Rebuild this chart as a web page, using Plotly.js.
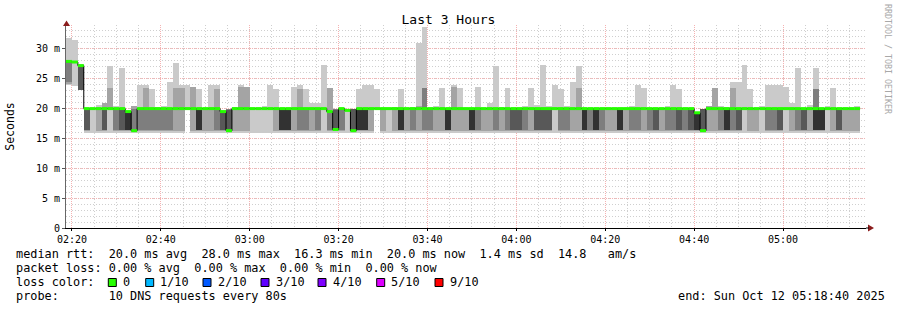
<!DOCTYPE html>
<html><head><meta charset="utf-8">
<script src="https://cdn.plot.ly/plotly-3.0.1.min.js"></script>
<style>html,body{margin:0;padding:0;background:#fff}#chart{width:897px;height:310px}</style>
</head><body><div id="chart"></div>
<script>
// ---- data (ms), one value per 80 s probe round, 10 sorted pings each ----
const startTime = '2025-10-12 02:18:40';
const endTime = '2025-10-12 05:18:40';
const stepSeconds = 80;

const ping1 = [
23.9,23.8,23.1,15.9,15.9,15.9,15.9,15.9,15.9,15.9,
15.9,15.9,15.9,15.9,15.9,15.9,15.9,15.9,15.9,15.9,
20.0,15.9,15.9,15.9,15.9,15.9,15.9,15.9,15.9,15.9,
15.9,15.9,15.9,15.9,15.9,15.9,15.9,15.9,15.9,15.9,
15.9,15.9,15.9,15.9,15.9,15.9,15.9,15.9,15.9,15.9,
15.9,15.9,20.0,15.9,15.9,15.9,15.9,15.9,15.9,15.9,
15.9,15.9,15.9,15.9,15.9,15.9,15.9,15.9,15.9,15.9,
15.9,15.9,15.9,15.9,15.9,15.9,15.9,15.9,15.9,15.9,
15.9,15.9,15.9,15.9,15.9,15.9,15.9,15.9,15.9,15.9,
15.9,15.9,15.9,15.9,15.9,15.9,15.9,15.9,15.9,15.9,
15.9,15.9,15.9,15.9,15.9,15.9,15.9,15.9,15.9,15.9,
15.9,15.9,15.9,15.9,15.9,15.9,15.9,15.9,15.9,15.9,
15.9,15.9,15.9,15.9,15.9,15.9,15.9,15.9,15.9,15.9,
15.9,15.9,15.9,15.9];
const ping2 = [
24.2,27.7,23.1,16.2,20.0,16.2,16.2,20.0,16.2,16.2,
16.2,16.2,16.2,16.2,16.2,16.2,16.2,16.2,16.2,16.2,
20.0,16.2,16.2,16.2,16.2,16.2,16.2,16.2,16.2,16.2,
16.2,20.0,20.0,20.0,20.0,16.2,16.2,16.2,16.2,16.2,
16.2,16.2,16.2,20.0,16.2,16.2,16.2,19.7,16.2,16.2,
16.2,16.2,20.0,16.2,20.0,16.2,16.2,16.2,16.2,16.2,
16.2,16.2,16.2,16.2,16.2,16.2,16.2,16.2,16.2,16.2,
16.2,16.2,16.2,16.2,16.2,16.2,16.2,16.2,16.2,16.2,
16.2,16.2,20.0,16.2,16.2,16.2,16.2,16.2,16.2,16.2,
16.2,16.2,16.2,16.2,16.2,16.2,16.2,16.2,16.2,16.2,
16.2,16.2,16.2,16.2,16.2,16.2,16.2,16.2,16.2,16.2,
16.2,16.2,16.2,16.2,20.0,16.2,16.2,20.0,16.2,16.2,
16.2,20.0,16.2,16.2,16.2,16.2,16.2,16.2,20.0,16.2,
16.2,16.2,16.2,16.2];
const ping3 = [
24.4,27.7,23.1,16.4,20.0,20.0,16.4,20.0,16.4,16.4,
16.4,16.3,16.4,16.4,16.4,16.4,16.4,16.4,20.0,20.0,
20.0,20.0,16.4,20.0,20.0,16.4,16.4,16.3,20.0,20.0,
20.0,20.0,20.0,20.0,20.0,20.0,16.4,16.4,20.0,16.4,
16.4,20.0,16.4,20.0,16.4,16.4,16.4,19.7,16.3,16.4,
16.4,20.0,20.0,20.0,20.0,20.0,16.4,20.0,16.4,20.0,
16.4,16.4,20.0,20.0,16.4,20.0,20.0,20.0,16.4,16.4,
20.0,20.0,16.4,20.0,16.4,16.4,16.4,16.4,20.0,16.4,
16.4,16.4,20.0,16.4,16.4,20.0,20.0,16.4,16.4,16.4,
16.4,20.0,20.0,16.4,20.0,16.4,16.4,20.0,16.4,16.4,
20.0,16.4,16.4,16.4,16.4,16.4,16.4,16.3,20.0,20.0,
16.4,16.4,16.4,16.4,20.0,20.0,20.0,20.0,16.4,16.4,
16.4,20.0,20.0,16.4,16.4,20.0,16.4,16.4,20.0,20.0,
16.4,20.0,20.0,20.0];
const ping4 = [
27.6,27.7,23.1,16.4,20.0,20.0,16.4,20.0,20.0,16.4,
16.4,16.3,20.0,20.0,20.0,20.0,20.0,20.0,20.0,20.0,
20.0,20.0,16.4,20.0,20.0,20.0,16.4,16.3,20.0,20.0,
20.0,20.0,20.0,20.0,20.0,20.0,16.4,16.4,20.0,20.0,
20.0,20.0,20.0,20.0,19.5,16.4,20.0,19.7,16.3,16.4,
16.4,20.0,20.0,20.0,20.0,20.0,16.4,20.0,20.0,20.0,
20.0,20.0,20.0,20.0,16.4,20.0,20.0,20.0,16.4,20.0,
20.0,20.0,20.0,20.0,20.0,16.4,16.4,20.0,20.0,16.4,
16.4,16.4,20.0,20.0,20.0,20.0,20.0,16.4,20.0,16.4,
20.0,20.0,20.0,16.4,20.0,20.0,20.0,20.0,20.0,16.4,
20.0,20.0,20.0,16.4,20.0,16.4,16.4,16.3,20.0,20.0,
20.0,16.4,20.0,16.4,20.0,20.0,20.0,20.0,20.0,20.0,
16.4,20.0,20.0,20.0,16.4,20.0,16.4,16.4,20.0,20.0,
16.4,20.0,20.0,20.0];
const ping5 = [
27.8,27.8,27.0,20.0,20.0,20.0,20.0,20.0,20.0,20.0,
16.4,16.3,20.0,20.0,20.0,20.0,20.0,20.0,20.0,20.0,
20.0,20.0,16.4,20.0,20.0,20.0,19.5,16.3,20.0,20.0,
20.0,20.0,20.0,20.0,20.0,20.0,16.4,16.4,20.0,20.0,
20.0,20.0,20.0,20.0,19.5,16.5,20.0,19.7,16.3,16.4,
16.4,20.0,20.0,20.0,20.0,20.0,16.4,20.0,20.0,20.0,
20.0,20.0,20.0,20.0,16.4,20.0,20.0,20.0,16.4,20.0,
20.0,20.0,20.0,20.0,20.0,20.0,20.0,20.0,20.0,20.0,
20.0,20.0,20.0,20.0,20.0,20.0,20.0,16.4,20.0,16.4,
20.0,20.0,20.0,16.4,20.0,20.0,20.0,20.0,20.0,20.0,
20.0,20.0,20.0,20.0,20.0,20.0,16.4,16.3,20.0,20.0,
20.0,16.4,20.0,20.0,20.0,20.0,20.0,20.0,20.0,20.0,
20.0,20.0,20.0,20.0,20.0,20.0,16.4,16.4,20.0,20.0,
20.0,20.0,20.0,20.0];
const median = [
27.9,27.8,27.2,20.0,20.0,20.0,20.0,20.0,20.0,20.0,
19.5,16.3,20.0,20.0,20.0,20.0,20.0,20.0,20.0,20.0,
20.0,20.0,20.0,20.0,20.0,20.0,19.5,16.3,20.0,20.0,
20.0,20.0,20.0,20.0,20.0,20.0,20.0,20.0,20.0,20.0,
20.0,20.0,20.0,20.0,19.5,16.5,20.0,19.7,16.3,20.0,
20.0,20.0,20.0,20.0,20.0,20.0,20.0,20.0,20.0,20.0,
20.0,20.0,20.0,20.0,20.0,20.0,20.0,20.0,20.0,20.0,
20.0,20.0,20.0,20.0,20.0,20.0,20.0,20.0,20.0,20.0,
20.0,20.0,20.0,20.0,20.0,20.0,20.0,20.0,20.0,20.0,
20.0,20.0,20.0,20.0,20.0,20.0,20.0,20.0,20.0,20.0,
20.0,20.0,20.0,20.0,20.0,20.0,19.3,16.3,20.0,20.0,
20.0,20.0,20.0,20.0,20.0,20.0,20.0,20.0,20.0,20.0,
20.0,20.0,20.0,20.0,20.0,20.0,20.0,20.0,20.0,20.0,
20.0,20.0,20.0,20.0];
const ping7 = [
27.9,27.8,27.2,20.0,20.0,20.0,20.0,20.0,20.0,20.0,
19.5,16.3,20.0,20.0,20.0,20.0,20.0,20.0,20.0,20.0,
20.0,20.0,20.0,20.0,20.0,20.0,19.5,19.8,20.0,20.0,
20.0,20.0,20.0,20.0,20.0,20.0,20.0,20.0,20.0,20.0,
20.0,20.0,20.0,20.0,19.5,19.8,20.0,19.7,20.0,20.0,
20.0,20.0,20.0,20.0,20.0,20.0,20.0,20.0,20.0,20.0,
20.0,20.0,20.0,20.0,20.0,20.0,20.0,20.0,20.0,20.0,
20.0,20.0,20.0,20.0,20.0,20.0,20.0,20.0,20.0,20.0,
20.0,20.0,20.0,20.0,20.0,20.0,20.0,20.0,20.0,20.0,
20.0,20.0,20.0,20.0,20.0,20.0,20.0,20.0,20.0,20.0,
20.0,20.0,20.0,20.0,20.0,20.0,19.3,20.0,20.0,20.0,
20.0,20.0,20.0,20.0,20.0,20.0,20.0,20.0,20.0,20.0,
20.0,20.0,20.0,20.0,20.0,20.0,20.0,20.0,20.0,20.0,
20.0,20.0,20.0,20.0];
const ping8 = [
27.9,27.8,27.2,20.0,20.0,20.0,20.0,20.0,20.0,20.0,
19.5,20.0,20.0,20.0,20.0,20.0,20.0,20.0,20.0,20.0,
20.0,20.0,20.0,20.0,20.0,20.0,19.5,20.0,20.0,20.0,
20.0,20.0,20.0,20.0,20.0,20.0,20.0,20.0,20.0,20.0,
20.0,20.0,20.0,20.0,19.5,20.0,20.0,19.7,20.0,20.0,
20.0,20.0,20.0,20.0,20.0,20.0,20.0,20.0,20.0,20.0,
23.4,20.0,20.0,20.0,20.0,20.0,20.0,20.0,20.0,20.0,
20.0,20.0,20.0,20.0,20.0,20.0,20.0,20.0,20.0,20.0,
20.0,20.0,20.0,20.0,20.0,20.0,20.0,20.0,20.0,20.0,
20.0,20.0,20.0,20.0,20.0,20.0,20.0,20.0,20.0,20.0,
20.0,20.0,20.0,20.0,20.0,20.0,19.3,20.0,20.0,20.0,
20.0,20.0,20.0,20.0,20.0,20.0,20.0,20.0,20.0,20.0,
20.0,20.0,20.0,20.0,20.0,20.0,23.3,20.0,20.0,20.0,
20.0,20.0,20.0,20.0];
const ping9 = [
27.9,27.8,27.2,20.0,20.0,20.0,21.0,23.4,20.0,20.0,
19.5,20.4,20.0,23.4,20.0,20.0,20.0,20.0,23.4,23.4,
20.0,23.7,20.0,20.0,20.0,23.3,19.5,20.0,20.0,23.7,
23.7,20.0,20.0,20.0,20.0,20.0,20.0,20.0,20.0,23.3,
20.0,20.0,20.0,20.0,23.4,20.0,20.0,19.7,20.0,20.0,
20.0,20.0,20.0,20.0,20.0,20.0,20.0,20.0,20.0,20.5,
23.4,20.0,20.0,20.0,20.0,23.7,20.0,20.0,20.0,20.0,
20.0,20.0,20.0,20.0,20.0,20.0,20.0,20.0,20.0,20.0,
20.0,20.0,20.0,20.0,20.0,20.0,23.4,20.0,20.0,20.0,
20.0,20.0,20.0,20.0,20.0,20.0,20.0,20.0,20.0,20.0,
20.0,20.0,20.0,20.0,20.0,20.0,19.3,20.0,20.4,23.4,
20.0,20.0,23.4,20.0,20.0,20.0,20.0,20.0,20.0,20.0,
20.0,20.0,20.0,20.0,20.0,20.0,23.3,20.0,20.0,20.0,
20.0,20.0,20.0,20.0];
const ping10 = [
31.9,31.5,27.4,20.0,20.0,20.6,21.0,27.2,20.4,26.8,
19.5,20.4,24.0,24.0,23.3,20.2,20.4,24.5,27.7,24.0,
24.0,23.7,23.3,20.0,24.0,24.0,19.5,20.0,20.2,24.0,
23.7,20.0,20.0,20.4,24.0,23.3,20.0,20.0,23.7,24.0,
23.3,20.9,20.9,27.3,23.4,20.0,20.0,19.7,20.0,23.3,
24.0,24.0,23.3,20.0,20.0,20.2,23.3,20.0,20.2,31.0,
33.6,20.0,20.4,23.4,20.0,24.0,23.4,20.0,20.0,23.6,
20.0,20.9,27.2,20.2,23.4,20.0,20.0,20.4,23.4,20.6,
27.3,20.4,24.0,23.3,20.4,24.5,27.2,20.0,20.0,20.0,
20.0,20.0,20.0,20.0,20.0,20.4,24.0,23.4,20.0,20.0,
20.0,20.4,24.0,23.3,20.0,20.0,19.3,20.0,20.4,23.4,
20.4,20.2,24.5,24.5,27.3,23.3,20.0,20.4,24.0,24.0,
24.0,23.7,21.0,26.8,20.0,20.6,26.8,20.0,20.4,23.4,
20.0,20.0,20.0,20.4];

const bandColors = ['#cacaca', '#a4a4a4', '#7e7e7e', '#585858', '#323232'];
const lossLabels = ['0', '1/10', '2/10', '3/10', '4/10', '5/10', '9/10'];
const lossColors = ['#26ff00', '#00b8ff', '#0059ff', '#5e00ff', '#7e00ff', '#dd00ff', '#ff0000'];
const yTickVals = [0, 5, 10, 15, 20, 25, 30];
const yTickText = ['0', '5 m', '10 m', '15 m', '20 m', '25 m', '30 m'];
const statLines = [
  'median rtt:  20.0 ms avg  28.0 ms max  16.3 ms min  20.0 ms now  1.4 ms sd  14.8   am/s',
  'packet loss: 0.00 % avg  0.00 % max  0.00 % min  0.00 % now',
  'loss color:',
  'probe:       10 DNS requests every 80s'
];
const endText = 'end: Sun Oct 12 05:18:40 2025';
const titleText = 'Last 3 Hours';
const yTitle = 'Seconds';
const watermark = 'RRDTOOL / TOBI OETIKER';

// ---- build traces ----
const t0 = Date.UTC(2025, 9, 12, 2, 18, 40);
const stepMs = stepSeconds * 1000;
const fmt = ms => new Date(ms).toISOString().slice(0, 19).replace('T', ' ');
const times = median.map((_, i) => fmt(t0 + i * stepMs));
const timesEnd = median.map((_, i) => fmt(t0 + (i + 1) * stepMs));
const pings = [ping1, ping2, ping3, ping4, ping5, median, ping7, ping8, ping9, ping10];

const traces = [];
for (let i = 0; i < 5; i++) {
  const lo = pings[i], hi = pings[9 - i];
  traces.push({
    type: 'bar', x: times, base: lo, y: hi.map((h, k) => h - lo[k]),
    width: stepMs, offset: 0,
    marker: {color: bandColors[i], line: {width: 0}},
    hoverinfo: 'skip', showlegend: false
  });
}
traces.push({
  type: 'scatter', mode: 'lines', x: times, y: median,
  line: {shape: 'hv', color: '#000000', width: 1},
  hoverinfo: 'skip', showlegend: false
});
const gx = [], gy = [];
median.forEach((m, k) => { gx.push(times[k], timesEnd[k], null); gy.push(m, m, null); });
traces.push({
  type: 'scatter', mode: 'lines', x: gx, y: gy, connectgaps: false,
  line: {color: lossColors[0], width: 3},
  hoverinfo: 'skip', showlegend: false
});

// ---- layout helpers (pixel -> paper) ----
const PL = 66, PR = 866, PT = 25, PB = 228;
const px = x => (x - PL) / (PR - PL);
const py = y => (PB - y) / (PB - PT);
const nb = s => s.replace(/ /g, '\u00a0');
const mono = 'DejaVu Sans Mono, monospace';
const legendFont = {family: mono, size: 11.85, color: '#000'};

const annotations = [];
const lineY = [254.3, 268.3, 282.3, 296.2];
statLines.forEach((s, i) => annotations.push({
  xref: 'paper', yref: 'paper', x: px(14), y: py(lineY[i]), xanchor: 'left', yanchor: 'middle',
  text: nb(s), showarrow: false, font: legendFont
}));
annotations.push({
  xref: 'paper', yref: 'paper', x: px(676), y: py(lineY[3]), xanchor: 'left', yanchor: 'middle',
  text: nb(endText), showarrow: false, font: legendFont
});
const boxX = [108.3, 145.7, 203, 261, 318, 376.7, 435];
const labX = [123, 160, 218, 276, 333, 390.7, 450];
const shapes = [];
lossLabels.forEach((l, i) => {
  annotations.push({
    xref: 'paper', yref: 'paper', x: px(labX[i] - 2), y: py(lineY[2]), xanchor: 'left', yanchor: 'middle',
    text: nb(l), showarrow: false, font: legendFont
  });
  shapes.push({
    type: 'rect', xref: 'paper', yref: 'paper',
    x0: px(boxX[i]), x1: px(boxX[i] + 8), y0: py(286.5), y1: py(278.5),
    fillcolor: lossColors[i], line: {color: '#000', width: 1}
  });
});
annotations.push({
  xref: 'paper', yref: 'paper', x: px(888), y: py(59), xanchor: 'center', yanchor: 'middle',
  text: nb(watermark), textangle: 90, showarrow: false,
  font: {family: mono, size: 8.3, color: '#a8a8a8'}
});
// axis arrows
const tri = pts => 'M' + pts.map(p => px(p[0]) + ',' + py(p[1])).join(' L') + ' Z';
shapes.push({type: 'path', xref: 'paper', yref: 'paper', path: tri([[66.5, 20.5], [63, 26], [70, 26]]),
  fillcolor: '#8b1c1c', line: {width: 0}});
shapes.push({type: 'path', xref: 'paper', yref: 'paper', path: tri([[874, 228], [868, 224.5], [868, 231.5]]),
  fillcolor: '#8b1c1c', line: {width: 0}});
shapes.push({type: 'line', xref: 'paper', yref: 'paper', x0: px(866), x1: px(869), y0: 0, y1: 0,
  line: {color: '#000', width: 1}});

const majorGrid = '#f4b2b2';
const minorGrid = '#cfcfcf';
const layout = {
  width: 897, height: 310,
  margin: {l: PL, r: 897 - PR, t: PT, b: 310 - PB, pad: 0},
  paper_bgcolor: '#ffffff', plot_bgcolor: '#ffffff',
  font: {family: mono, size: 10, color: '#000'},
  title: {text: titleText, x: 0.5, xref: 'container', xanchor: 'center',
          y: 1 - 19 / 310, yref: 'container', yanchor: 'middle', font: {family: mono, size: 13, color: '#000'}},
  barmode: 'overlay', bargap: 0, showlegend: false,
  xaxis: {
    type: 'date', range: [startTime, endTime], fixedrange: true,
    tickmode: 'linear', tick0: '2025-10-12 02:20:00', dtick: 20 * 60 * 1000, tickformat: '%H:%M',
    ticks: 'outside', ticklen: 2, tickcolor: '#000', tickfont: {family: mono, size: 10, color: '#000'},
    showgrid: true, gridcolor: majorGrid, griddash: '1px,1px', gridwidth: 1,
    minor: {tick0: '2025-10-12 02:20:00', dtick: 5 * 60 * 1000, showgrid: true, gridcolor: minorGrid, griddash: '1px,2px', gridwidth: 1, ticks: ''},
    showline: true, linecolor: '#000', linewidth: 1, zeroline: false
  },
  yaxis: {
    range: [0, 34], fixedrange: true,
    tickmode: 'array', tickvals: yTickVals, ticktext: yTickText,
    ticks: 'outside', ticklen: 3, tickcolor: '#555', tickfont: {family: mono, size: 10, color: '#000'},
    showgrid: true, gridcolor: majorGrid, griddash: '1px,1px', gridwidth: 1,
    minor: {tick0: 0, dtick: 1, showgrid: true, gridcolor: minorGrid, griddash: '1px,2px', gridwidth: 1, ticks: ''},
    showline: true, linecolor: '#666', linewidth: 1, zeroline: false,
    title: {text: yTitle, standoff: 18, font: {family: mono, size: 11.5, color: '#000'}}
  },
  annotations: annotations,
  shapes: shapes
};

Plotly.newPlot('chart', traces, layout, {staticPlot: true, displayModeBar: false});
</script>
</body></html>
